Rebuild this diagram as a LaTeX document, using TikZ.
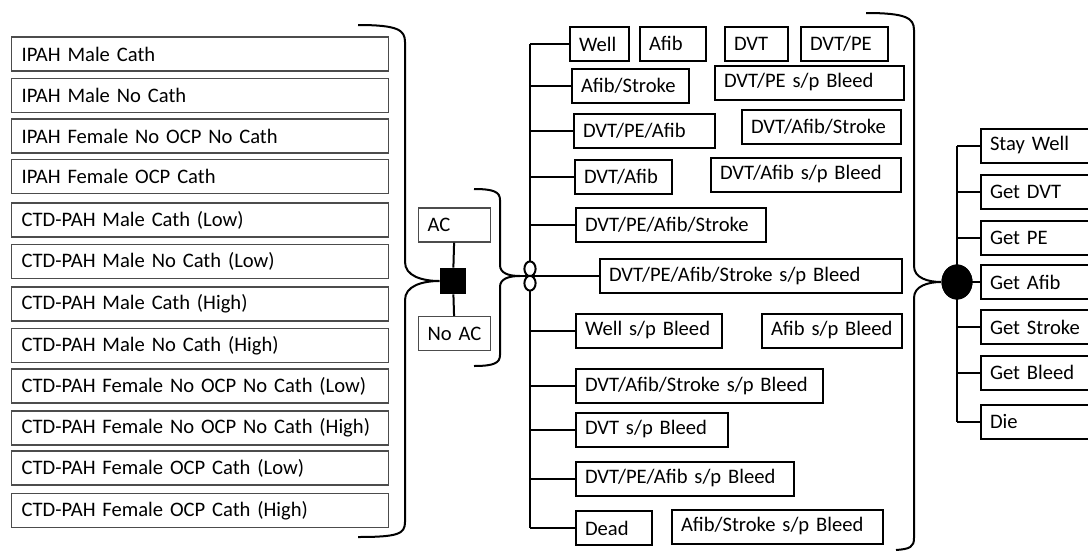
\documentclass[tikz,border=0pt]{standalone}
\usepackage{fontspec}
\setmainfont{Carlito}
\usetikzlibrary{shapes.geometric}

\begin{document}
\begin{tikzpicture}[
    x=0.5pt,
    y=-0.5pt,
    font=\fontsize{10.3}{12}\selectfont,
    cohort/.style={draw=black!70, line width=0.6pt, anchor=west, align=left,
        minimum height=17pt, inner xsep=5pt, text width=178.5pt},
    arm/.style={draw=black!70, line width=0.6pt, anchor=west, align=left,
        minimum height=17pt, inner xsep=4.5pt, text width=27pt},
    state/.style={draw, line width=1pt, anchor=west, align=left,
        minimum height=17pt, inner xsep=4.5pt, text width=#1},
    decision/.style={fill, minimum size=13pt, inner sep=0pt},
    chance/.style={ellipse, fill, minimum width=15.5pt, minimum height=17.5pt, inner sep=0pt},
    wire/.style={line width=1pt},
    brace/.style={line width=1pt}
]
    \useasboundingbox (0,0) rectangle (1088,552);
    \clip (0,0) rectangle (1088,552);
    \foreach \y/\txt [count=\i] in {54/IPAH Male Cath, 95.5/IPAH Male No Cath,
        136/IPAH Female No OCP No Cath, 176.5/IPAH Female OCP Cath,
        220/CTD-PAH Male Cath (Low), 261.5/CTD-PAH Male No Cath (Low),
        304/CTD-PAH Male Cath (High), 345.5/CTD-PAH Male No Cath (High),
        386/CTD-PAH Female No OCP No Cath (Low), 428/CTD-PAH Female No OCP No Cath (High),
        468/CTD-PAH Female OCP Cath (Low), 510.5/CTD-PAH Female OCP Cath (High)} {
        \node[cohort] (c\i) at (11,\y) {\txt};
    }
    \node[decision] (dec) at (453,281) {};
    \node[arm] (ac) at (418,225) {AC};
    \node[arm] (noac) at (418,333.5) {No AC};
    \draw[wire] (ac) -- (dec) -- (noac);
    \draw[brace] (358,25) .. controls (398,25) and (405,30) .. (405,42) -- (405,262)
        .. controls (405,276) and (422,281) .. (dec.west)
        .. controls (422,281) and (405,286) .. (405,300) -- (405,522)
        .. controls (405,534) and (398,537) .. (358,537);
    \coordinate (acjoin) at (520,276);
    \draw[brace] (474,189) .. controls (494,189) and (500,192) .. (500,200) -- (500,265)
        .. controls (500,273) and (508,276) .. (acjoin)
        .. controls (508,276) and (500,279) .. (500,287) -- (500,355)
        .. controls (500,363) and (494,366) .. (474,366);
    \coordinate (mk) at (530,276);
    \node[state=20.5pt] (well) at (569,44) {Well};
    \node[state=24pt] (afib) at (639,43.5) {Afib};
    \node[state=22.5pt] (dvt) at (724,43.5) {DVT};
    \node[state=34.5pt] (dvtpe) at (800,43.5) {DVT/PE};
    \node[state=49.5pt] (afibstroke) at (571,86) {Afib/Stroke};
    \node[state=85.5pt] (dvtpebleed) at (714,82.5) {DVT/PE s/p Bleed};
    \node[state=61.5pt] (dvtpeafib) at (573,131) {DVT/PE/Afib};
    \node[state=70.5pt] (dvtafibstroke) at (741,126.5) {DVT/Afib/Stroke};
    \node[state=39.5pt] (dvtafib) at (574,177) {DVT/Afib};
    \node[state=86pt] (dvtafibbleed) at (710,174.5) {DVT/Afib s/p Bleed};
    \node[state=86pt] (dvtpeafibstroke) at (575,224.5) {DVT/PE/Afib/Stroke};
    \node[state=142pt] (allbleed) at (599,276) {DVT/PE/Afib/Stroke s/p Bleed};
    \node[state=64pt] (wellbleed) at (575,330.5) {Well s/p Bleed};
    \node[state=61pt] (afibbleed) at (761,330.5) {Afib s/p Bleed};
    \node[state=114.5pt] (dvtafibstrokebleed) at (575,386) {DVT/Afib/Stroke s/p Bleed};
    \node[state=67pt] (dvtbleed) at (575,429.5) {DVT s/p Bleed};
    \node[state=100pt] (dvtpeafibbleed) at (575,478.5) {DVT/PE/Afib s/p Bleed};
    \node[state=29pt] (dead) at (575,528) {Dead};
    \node[state=96.5pt] (afibstrokebleed) at (671,526.5) {Afib/Stroke s/p Bleed};
    \draw[wire] (mk |- well.west) -- (mk |- dead.west);
    \foreach \b in {well, afibstroke, dvtpeafib, dvtafib, dvtpeafibstroke, wellbleed,
        dvtafibstrokebleed, dvtbleed, dvtpeafibbleed, dead} {
        \draw[wire] (mk |- \b.west) -- (\b.west);
    }
    \draw[wire] (acjoin) -- (mk) -- (allbleed.west);
    \draw[wire, fill=white] ([yshift=3.6pt]mk) ellipse (2.8pt and 3.7pt);
    \draw[wire, fill=white] ([yshift=-3.6pt]mk) ellipse (2.8pt and 3.7pt);
    \node[chance] (cn) at (957,282) {};
    \draw[brace] (866,13) .. controls (906,13) and (914,18) .. (914,30) -- (914,266)
        .. controls (914,278) and (928,282) .. (cn.west)
        .. controls (928,282) and (914,286) .. (914,298) -- (914,538)
        .. controls (914,547) and (910,549) .. (896,550);
    \node[state=70pt] (stay) at (980,145.5) {Stay Well};
    \node[state=70pt] (getdvt) at (980,192) {Get DVT};
    \node[state=70pt] (getpe) at (980,237.5) {Get PE};
    \node[state=70pt] (getafib) at (980,282) {Get Afib};
    \node[state=70pt] (getstroke) at (980,327) {Get Stroke};
    \node[state=70pt] (getbleed) at (980,372.5) {Get Bleed};
    \node[state=70pt] (die) at (980,421.5) {Die};
    \draw[wire] (cn |- stay.west) -- (cn |- die.west);
    \foreach \b in {stay, getdvt, getpe, getafib, getstroke, getbleed, die} {
        \draw[wire] (cn |- \b.west) -- (\b.west);
    }
    \node[chance] at (cn) {};
\end{tikzpicture}
\end{document}
